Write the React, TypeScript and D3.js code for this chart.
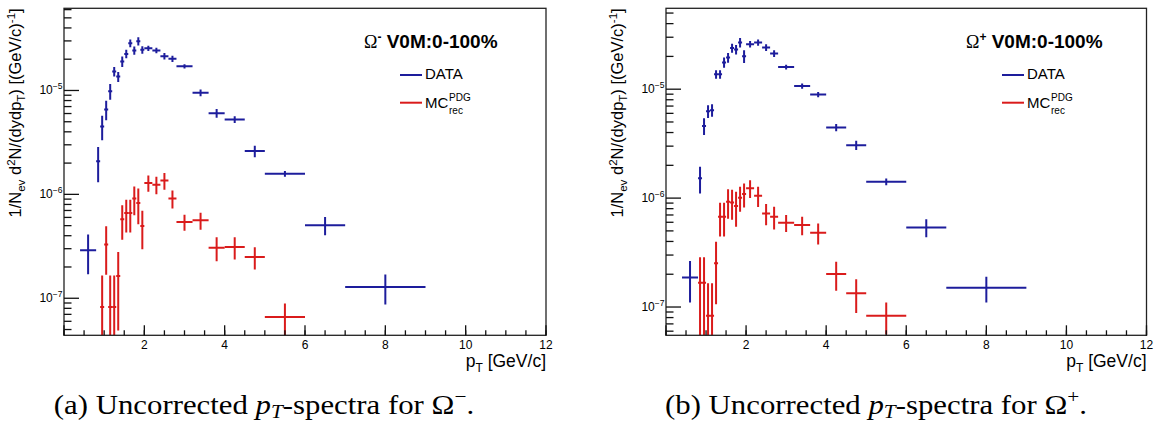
import React from "react";
import * as d3 from "d3";

// pT bin edges (GeV/c)
const BIN_LO = [0.4, 0.8, 0.9, 1.0, 1.1, 1.2, 1.3, 1.4, 1.5, 1.6, 1.7, 1.8, 1.9, 2.0, 2.2, 2.4, 2.6, 2.8, 3.2, 3.6, 4.0, 4.5, 5.0, 6.0, 7.0];
const BIN_HI = [0.8, 0.9, 1.0, 1.1, 1.2, 1.3, 1.4, 1.5, 1.6, 1.7, 1.8, 1.9, 2.0, 2.2, 2.4, 2.6, 2.8, 3.2, 3.6, 4.0, 4.5, 5.0, 6.0, 7.0, 9.0];

// Omega minus
const OMM_DATA = [2.9e-7, 2.08e-6, 4.51e-6, 6.56e-6, 9.85e-6, 1.52e-5, 1.36e-5, 1.9e-5, 2.25e-5, 2.85e-5, 2.43e-5, 2.98e-5, 2.46e-5, 2.55e-5, 2.43e-5, 2.14e-5, 2.02e-5, 1.71e-5, 9.5e-6, 6.05e-6, 5.26e-6, 2.61e-6, 1.58e-6, 5.04e-7, 1.28e-7];
const OMM_DATA_ERR = [1.2e-7, 7.7e-7, 1.2e-6, 1.4e-6, 1.7e-6, 1.6e-6, 1.5e-6, 2.2e-6, 2.1e-6, 2.4e-6, 2.2e-6, 2.7e-6, 2.0e-6, 1.5e-6, 1.5e-6, 1.5e-6, 1.4e-6, 8e-7, 7e-7, 6e-7, 4e-7, 3.3e-7, 1.0e-7, 1.0e-7, 4.1e-8];
const OMM_MC = [null, null, 8.26e-8, 3.3e-7, 8.26e-8, 8.26e-8, 1.64e-7, 5.75e-7, 6.6e-7, 6.6e-7, 9.1e-7, 8.26e-7, 4.96e-7, 1.29e-6, 1.24e-6, 1.36e-6, 9.1e-7, 5.42e-7, 5.62e-7, 3.07e-7, 3.11e-7, 2.49e-7, 6.6e-8, null, null];
const OMM_MC_ERR = [0, 0, 8.3e-8, 1.62e-7, 8.3e-8, 8.3e-8, 1.15e-7, 2.1e-7, 2.3e-7, 2.3e-7, 2.8e-7, 3.1e-7, 2.0e-7, 2.3e-7, 2.4e-7, 2.5e-7, 1.8e-7, 9.6e-8, 1.05e-7, 8e-8, 7.5e-8, 6e-8, 2.3e-8, 0, 0];

// Omega plus
const OMP_DATA = [1.87e-7, 1.52e-6, 4.6e-6, 6.28e-6, 6.42e-6, 1.37e-5, 1.37e-5, 1.76e-5, 1.95e-5, 2.39e-5, 2.31e-5, 2.68e-5, 2.01e-5, 2.59e-5, 2.68e-5, 2.41e-5, 2.13e-5, 1.6e-5, 1.07e-5, 8.93e-6, 4.45e-6, 3.06e-6, 1.41e-6, 5.38e-7, 1.5e-7];
const OMP_DATA_ERR = [7.7e-8, 4.2e-7, 8e-7, 8.5e-7, 8.5e-7, 1.2e-6, 1.2e-6, 1.9e-6, 2.0e-6, 2.3e-6, 2.3e-6, 2.7e-6, 2.7e-6, 1.8e-6, 1.8e-6, 1.7e-6, 1.5e-6, 8e-7, 6e-7, 5e-7, 3.5e-7, 3e-7, 1.0e-7, 1.0e-7, 4e-8];
const OMP_MC = [null, 1.67e-7, 1.67e-7, 8.3e-8, 8.3e-8, 2.52e-7, 6.75e-7, 6.75e-7, 9.25e-7, 9.12e-7, 8.45e-7, 1.01e-6, 1.09e-6, 1.23e-6, 1.05e-6, 7.24e-7, 6.75e-7, 5.93e-7, 5.65e-7, 4.81e-7, 2.01e-7, 1.34e-7, 8.3e-8, null, null];
const OMP_MC_ERR = [0, 1.2e-7, 1.2e-7, 8.2e-8, 8.2e-8, 1.46e-7, 2.3e-7, 2.3e-7, 2.8e-7, 2.8e-7, 3e-7, 2.6e-7, 2.7e-7, 2.3e-7, 2.2e-7, 1.6e-7, 1.6e-7, 1.05e-7, 1.1e-7, 1.05e-7, 6e-8, 4.6e-8, 2.7e-8, null, null];

const X_MAJOR = [0, 2, 4, 6, 8, 10, 12];
const X_LABELS = ["", "2", "4", "6", "8", "10", "12"];
const X_MINOR = d3.range(0, 12.01, 0.5);
const Y_DECADES = [-8, -7, -6, -5, -4];
const LEGEND_LABELS = ["DATA", "MC"];
const CAPTION_LETTERS = ["(a)", "(b)"];
const SIGNS = ["-", "+"];
const CAPTION_SIGNS = ["\u2212", "+"];

const BLUE = "#1d1d9c";
const RED = "#da1b1b";
const SANS = "Liberation Sans, Arial, Helvetica, sans-serif";
const SERIF = "Liberation Serif, Times New Roman, serif";

type PanelProps = {
  x0: number; x1: number; y0: number; y1: number;
  yDomain: [number, number];
  data: (number | null)[]; dataErr: (number | null)[];
  mc: (number | null)[]; mcErr: (number | null)[];
  sign: string; id: string;
};

function ErrorBars({ x, y, vals, errs, color, yMin }: any) {
  return (
    <g stroke={color} strokeWidth={2} fill="none">
      {vals.map((v: number | null, i: number) => {
        if (v == null) return null;
        const e = errs[i] || 0;
        const lo = Math.max(v - e, yMin * 0.3);
        const yc = y(v);
        const xc = x((BIN_LO[i] + BIN_HI[i]) / 2);
        return (
          <g key={i}>
            <line x1={x(BIN_LO[i])} x2={x(BIN_HI[i])} y1={yc} y2={yc} />
            <line x1={xc} x2={xc} y1={y(v + e)} y2={y(lo)} />
          </g>
        );
      })}
    </g>
  );
}

function Panel({ x0, x1, y0, y1, yDomain, data, dataErr, mc, mcErr, sign, id }: PanelProps) {
  const x = d3.scaleLinear().domain([0, 12]).range([x0, x1]);
  const y = d3.scaleLog().domain(yDomain).range([y1, y0]);
  const yMajors = Y_DECADES.map((d) => Math.pow(10, d)).filter((v) => v >= yDomain[0] && v <= yDomain[1]);
  const yMinors: number[] = [];
  Y_DECADES.forEach((d) => {
    for (let m = 2; m <= 9; m++) {
      const v = m * Math.pow(10, d);
      if (v >= yDomain[0] && v <= yDomain[1]) yMinors.push(v);
    }
  });
  const tickColor = "#111";
  return (
    <g>
      <defs>
        <clipPath id={"clip" + id}>
          <rect x={x0} y={y0} width={x1 - x0} height={y1 - y0} />
        </clipPath>
      </defs>
      <g clipPath={`url(#clip${id})`}>
        <ErrorBars x={x} y={y} vals={data} errs={dataErr} color={BLUE} yMin={yDomain[0]} />
        <ErrorBars x={x} y={y} vals={mc} errs={mcErr} color={RED} yMin={yDomain[0]} />
      </g>
      <rect x={x0} y={y0} width={x1 - x0} height={y1 - y0} fill="none" stroke="#222" strokeWidth={1.3} />
      <g stroke={tickColor} strokeWidth={1.3}>
        {X_MINOR.map((t) => (
          <line key={"xm" + t} x1={x(t)} x2={x(t)} y1={y1} y2={y1 - 5} />
        ))}
        {X_MAJOR.map((t) => (
          <line key={"xM" + t} x1={x(t)} x2={x(t)} y1={y1} y2={y1 - 10} />
        ))}
        {yMinors.map((v, i) => (
          <line key={"ym" + i} x1={x0} x2={x0 + 7.5} y1={y(v)} y2={y(v)} />
        ))}
        {yMajors.map((v, i) => (
          <line key={"yM" + i} x1={x0} x2={x0 + 15} y1={y(v)} y2={y(v)} />
        ))}
      </g>
      <g fontFamily={SANS} fontSize={12} fill="#000">
        {X_MAJOR.map((t, i) => (
          <text key={"xl" + t} x={x(t)} y={y1 + 13.3} textAnchor="middle">{X_LABELS[i]}</text>
        ))}
        {yMajors.map((v, i) => (
          <text key={"yl" + i} x={x0 - 1.5} y={y(v) + 3.5} textAnchor="end">
            10<tspan fontSize={8.5} dy={-5}>{"\u2212" + Math.round(-Math.log10(v))}</tspan>
          </text>
        ))}
      </g>
      <text x={x1} y={y1 + 32} textAnchor="end" fontFamily={SANS} fontSize={17.5}>
        p<tspan fontSize={12} dy={5}>T</tspan><tspan dy={-5}> [GeV/c]</tspan>
      </text>
      <text transform={`translate(${x0 - 43.5},${y0}) rotate(-90)`} textAnchor="end" fontFamily={SANS} fontSize={16.5}>
        1/N<tspan fontSize={11.5} dy={4}>ev</tspan>
        <tspan dy={-4}> d</tspan><tspan fontSize={11.5} dy={-6}>2</tspan>
        <tspan dy={6}>N/(dydp</tspan><tspan fontSize={11.5} dy={4}>T</tspan>
        <tspan dy={-4}>) [(GeV/c)</tspan><tspan fontSize={11.5} dy={-6}>-1</tspan>
        <tspan dy={6}>]</tspan>
      </text>
      <text x={x0 + 300} y={48.3} fontFamily={SANS} fontSize={19} fontWeight="bold">
        <tspan fontFamily={SERIF} fontWeight="normal" fontSize={18}>{"\u03A9"}</tspan>
        <tspan fontSize={12} dy={-7}>{sign}</tspan>
        <tspan dy={7}> V0M:0-100%</tspan>
      </text>
      <line x1={x0 + 336} x2={x0 + 358} y1={75} y2={75} stroke={BLUE} strokeWidth={2} />
      <text x={x0 + 361} y={79.3} fontFamily={SANS} fontSize={15}>{LEGEND_LABELS[0]}</text>
      <line x1={x0 + 336} x2={x0 + 358} y1={102.7} y2={102.7} stroke={RED} strokeWidth={2} />
      <text x={x0 + 361} y={108.3} fontFamily={SANS} fontSize={15}>{LEGEND_LABELS[1]}</text>
      <text x={x0 + 385} y={100.5} fontFamily={SANS} fontSize={10}>PDG</text>
      <text x={x0 + 385} y={113.5} fontFamily={SANS} fontSize={10}>rec</text>
    </g>
  );
}

function Caption({ cx, letter, sign }: { cx: number; letter: string; sign: string }) {
  return (
    <g transform={`translate(${cx},414) scale(1.12,1)`}>
      <text x={0} y={0} textAnchor="middle" fontFamily={SERIF} fontSize={27.5}>
        {letter} Uncorrected <tspan fontStyle="italic">p</tspan>
        <tspan fontStyle="italic" fontSize={19} dy={4}>T</tspan>
        <tspan dy={-4}>-spectra for {"\u03A9"}</tspan>
        <tspan fontSize={19} dy={-11}>{sign}</tspan>
        <tspan dy={11}>.</tspan>
      </text>
    </g>
  );
}

export default function App() {
  return (
    <svg width={1156} height={425} style={{ position: "absolute", left: 0, top: 0, background: "#fff" }}>
      <rect x={0} y={0} width={1156} height={425} fill="#fff" />
      <Panel id="a" x0={64} x1={546} y0={8.3} y1={335.3} yDomain={[4.4e-8, 6.18e-5]}
        data={OMM_DATA} dataErr={OMM_DATA_ERR} mc={OMM_MC} mcErr={OMM_MC_ERR} sign={SIGNS[0]} />
      <Panel id="b" x0={666} x1={1146.5} y0={8.3} y1={335.3} yDomain={[5.5e-8, 5.53e-5]}
        data={OMP_DATA} dataErr={OMP_DATA_ERR} mc={OMP_MC} mcErr={OMP_MC_ERR} sign={SIGNS[1]} />
      <Caption cx={264} letter={CAPTION_LETTERS[0]} sign={CAPTION_SIGNS[0]} />
      <Caption cx={876} letter={CAPTION_LETTERS[1]} sign={CAPTION_SIGNS[1]} />
    </svg>
  );
}
